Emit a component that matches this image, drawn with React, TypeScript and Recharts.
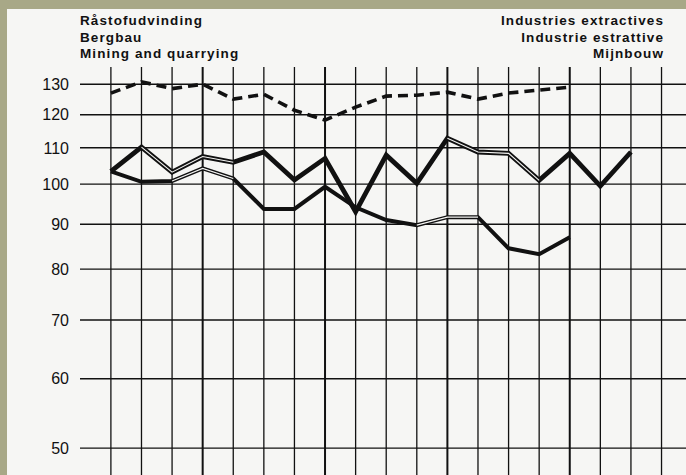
import { LineChart, Line, XAxis, YAxis, ReferenceLine } from "recharts";

// quarter index along the grid (19 columns, heavier rule every 4th)
const periods = [0, 1, 2, 3, 4, 5, 6, 7, 8, 9, 10, 11, 12, 13, 14, 15, 16, 17, 18];
const yTicks = [50, 60, 70, 80, 90, 100, 110, 120, 130];

const dashedSeries = [127, 130.8, 128.5, 130, 125, 126.6, 121.4, 118.3, 122.4, 126, 126.3, 127.3, 125, 127, 128, 129, null, null, null];
const upperSeries = [103.4, 110.2, 103.2, 107.5, 105.9, 108.8, 101.1, 107, 93, 107.9, 100.2, 112.8, 108.8, 108.4, 101, 108.4, 99.5, 108.8, null];
const lowerSeries = [103.4, 100.6, 100.8, 104.2, 101.5, 93.7, 93.7, 99.3, 94.1, 91, 89.8, 91.7, 91.7, 84.5, 83.2, 87, null, null, null];

// stretches that were printed as an outlined (hollow) line
const upperHollow = [1, 2, 3, 4, 11, 12, 13, 14];
const lowerHollow = [2, 3, 4, 10, 11, 12];

const rows = periods.map((p, i) => ({
  idx: p,
  dashed: dashedSeries[i],
  upper: upperSeries[i],
  lower: lowerSeries[i],
  upperH: upperHollow.includes(i) ? upperSeries[i] : null,
  lowerH: lowerHollow.includes(i) ? lowerSeries[i] : null,
}));

const heavy = [3, 7, 11, 15];
const ink = "#111";
const paper = "#f6f6f4";

const titleStyle: React.CSSProperties = {
  position: "absolute",
  fontFamily: "'Liberation Sans', Arial, sans-serif",
  fontWeight: 700,
  fontSize: 13.5,
  lineHeight: "16.5px",
  letterSpacing: 1.1,
  color: ink,
};

export default function App() {
  return (
    <div style={{ position: "fixed", left: 0, top: 0, width: 686, height: 475, overflow: "hidden", background: "#a8a887" }}>
      <div style={{ position: "absolute", left: 7, top: 9, width: 679, height: 466, background: paper }} />
      <div style={{ ...titleStyle, left: 80, top: 13 }}>
        Råstofudvinding<br />Bergbau<br />Mining and quarrying
      </div>
      <div style={{ ...titleStyle, right: 22, top: 13, textAlign: "right" }}>
        Industries extractives<br />Industrie estrattive<br />Mijnbouw
      </div>
      <div style={{ position: "absolute", left: 0, top: 0 }}>
        <LineChart width={686} height={475} data={rows} margin={{ top: 67, right: 0, bottom: 0, left: 0 }}>
          <XAxis type="number" dataKey="idx" domain={[-1.01, 18.8]} hide allowDataOverflow />
          <YAxis
            type="number"
            scale="log"
            domain={[46.6, 136]}
            ticks={yTicks}
            allowDataOverflow
            width={80}
            axisLine={false}
            tickLine={false}
            tickSize={0}
            tickMargin={11}
            tick={{ fill: ink, fontSize: 16, fontFamily: "'Liberation Sans', Arial, sans-serif" }}
          />
          {yTicks.map((v) => (
            <ReferenceLine key={"h" + v} y={v} stroke={ink} strokeWidth={1.4} />
          ))}
          {periods.map((p) => (
            <ReferenceLine key={p} x={p} stroke={ink} strokeWidth={heavy.includes(p) ? 2 : 1.3} />
          ))}
          <Line dataKey="dashed" stroke={ink} strokeWidth={3.6} strokeDasharray="10 6" dot={false} isAnimationActive={false} />
          <Line dataKey="lower" stroke={ink} strokeWidth={4} dot={false} isAnimationActive={false} />
          <Line dataKey="lowerH" stroke={paper} strokeWidth={1.1} dot={false} isAnimationActive={false} />
          <Line dataKey="upper" stroke={ink} strokeWidth={4.8} dot={false} isAnimationActive={false} />
          <Line dataKey="upperH" stroke={paper} strokeWidth={1.1} dot={false} isAnimationActive={false} />
        </LineChart>
      </div>
    </div>
  );
}
